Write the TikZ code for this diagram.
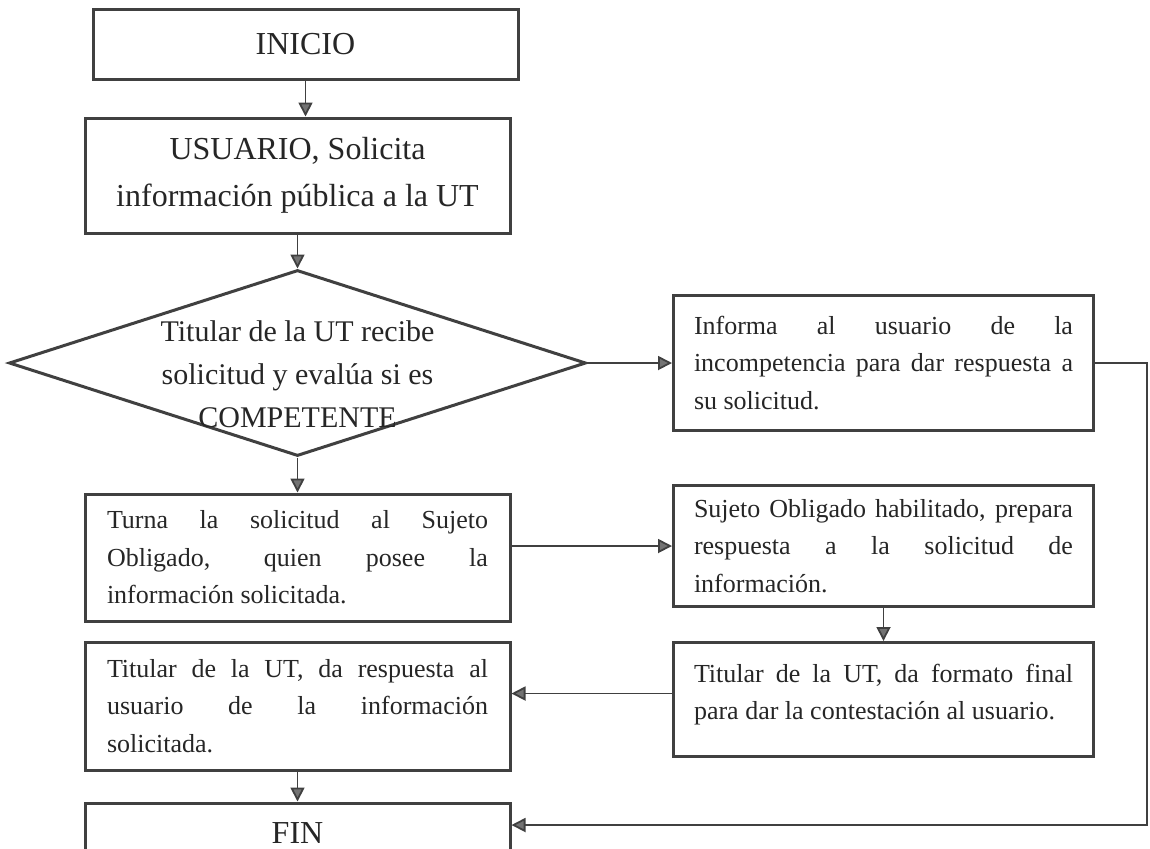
\documentclass[tikz,border=0pt]{standalone}
\usepackage{fontspec}
\setmainfont{Liberation Serif}
\usetikzlibrary{positioning, calc, arrows.meta, shapes.geometric}
\hyphenpenalty=10000
\exhyphenpenalty=10000
\tikzset{
    bigbox/.style={draw=black!75, line width=1.5pt, text=black!85, minimum width=212.5pt, inner sep=0pt, align=center, font=\fontsize{16}{23.5}\selectfont},
    lbox/.style={draw=black!75, line width=1.5pt, text=black!85, text width=190.5pt, inner xsep=11pt, inner ysep=0pt, align=justify, font=\fontsize{13}{18.75}\selectfont},
    rbox/.style={draw=black!75, line width=1.5pt, text=black!85, text width=189.5pt, inner xsep=10.25pt, inner ysep=0pt, align=justify, font=\fontsize{13}{18.75}\selectfont},
    decision/.style={draw=black!75, line width=1.5pt, diamond, shape aspect=3.1, minimum width=288.5pt, minimum height=93pt, inner sep=0pt},
    decisiontext/.style={text=black!85, align=center, font=\fontsize{15}{21.5}\selectfont},
    link/.style={draw=black!75, line width=0.9pt, ->}
}

\begin{document}
\begin{tikzpicture}[>={Triangle[length=7pt, width=7pt, fill=black!55]}]
	\useasboundingbox (0,0) rectangle (575pt,-424pt);
	\node(inicio)[bigbox, minimum height=35pt] at (152.75pt,-22pt) {INICIO};
	\node(usuario)[bigbox, minimum height=57.5pt, below=18pt of inicio, xshift=-4pt] {USUARIO, Solicita\\información pública a la UT};
	\node(evalua)[decision, below=17pt of usuario, label={[decisiontext, yshift=-5.5pt]center:Titular de la UT recibe\\solicitud y evalúa si es\\COMPETENTE}] {};
	\node(informa)[rbox, minimum height=67.5pt, right=42.25pt of evalua] {Informa al usuario de la\linebreak incompetencia para dar respuesta a\linebreak su solicitud.};
	\node(turna)[lbox, minimum height=63.5pt, below=17.5pt of evalua] {Turna la solicitud al Sujeto\linebreak Obligado, quien posee la\linebreak información solicitada.};
	\node(sujeto)[rbox, minimum height=60.5pt, below=26pt of informa] {Sujeto Obligado habilitado, prepara\linebreak respuesta a la solicitud de\linebreak información.};
	\node(formato)[rbox, minimum height=57pt, below=16.5pt of sujeto] {Titular de la UT, da formato final\linebreak para dar la contestación al usuario.\par\vspace{5pt}};
	\node(respuesta)[lbox, minimum height=64pt, below=9pt of turna] {Titular de la UT, da respuesta al\linebreak usuario de la información\linebreak solicitada.};
	\node(fin)[bigbox, minimum height=30pt, below=15pt of respuesta] {FIN};
	\draw[link](inicio.south)--(inicio.south |- usuario.north);
	\draw[link](usuario)--(evalua);
	\draw[link](evalua)--(informa);
	\draw[link](evalua)--(turna);
	\draw[link](turna.east |- sujeto.west)--(sujeto.west);
	\draw[link](sujeto)--(formato);
	\draw[link]([yshift=3pt]formato.west)--([yshift=3pt]formato.west -| respuesta.east);
	\draw[link](respuesta)--(fin);
	\draw[link](informa.east)--++(26pt,0) |- ([yshift=4pt]fin.east);
\end{tikzpicture}
\end{document}
